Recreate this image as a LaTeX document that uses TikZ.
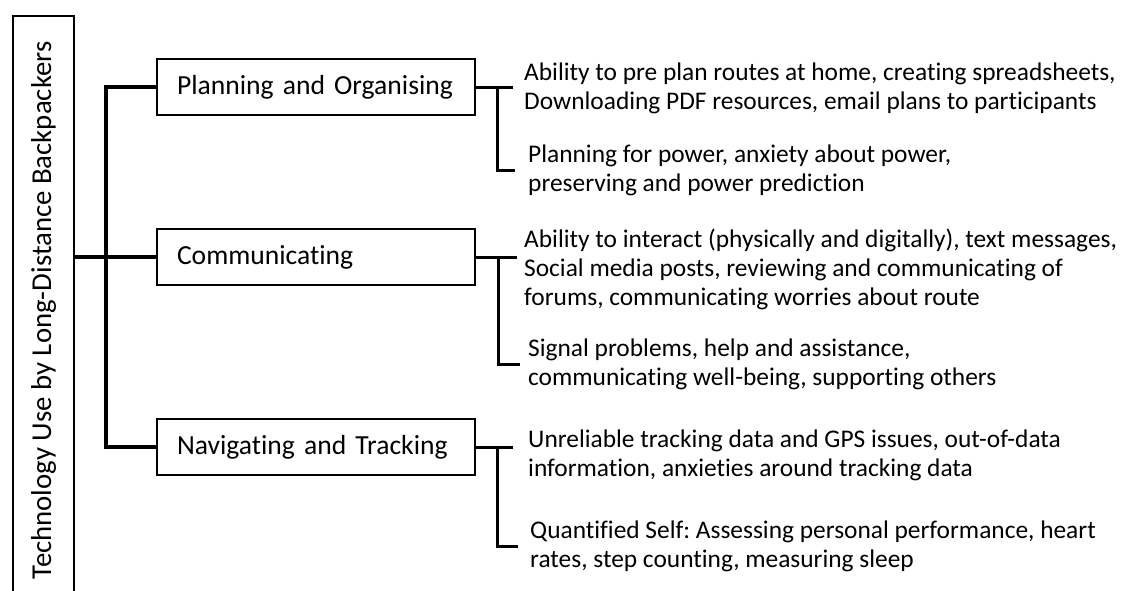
\documentclass[tikz,border=0pt]{standalone}
\usepackage{fontspec}
\setmainfont{Carlito}[Ligatures=NoCommon]
\usetikzlibrary{calc}
\frenchspacing
\begin{document}
\begin{tikzpicture}[x=1pt,y=-1pt,
  cat/.style={draw, line width=2pt, anchor=west, text width=278pt, inner xsep=20pt, inner ysep=0pt, minimum height=56pt, align=left, font=\fontsize{27.6}{33}\selectfont},
  item/.style={anchor=west, inner sep=0pt, align=left, font=\fontsize{25.4}{29}\selectfont},
  conn/.style={line width=3pt},
  trunk/.style={line width=3.2pt}]
\useasboundingbox (0,0) rectangle (1125,590);
\clip (0,0) rectangle (1125,590);
\node[draw, line width=2pt, rotate=90, minimum width=589pt, minimum height=61pt, inner sep=0pt, font=\fontsize{28.8}{33}\selectfont] (root) at (43.5,310.5) {Technology Use by Long-Distance Backpackers};
\node[cat] (plan) at (156,87) {\mbox{Planning and Organising}};
\node[cat] (comm) at (156,257) {\mbox{Communicating}};
\node[cat] (nav) at (156,447) {\mbox{Navigating and Tracking}};
\node[item] (pa) at (524,88) {Ability to pre plan routes at home, creating spreadsheets,\\Downloading PDF resources, email plans to participants};
\node[item] (pb) at (528,170) {Planning for power, anxiety about power,\\preserving and power prediction};
\node[item] (ca) at (524,269) {Ability to interact (physically and digitally), text messages,\\Social media posts, reviewing and communicating of\\forums, communicating worries about route};
\node[item] (cb) at (528,364) {Signal problems, help and assistance,\\communicating well-being, supporting others};
\node[item] (na) at (528,455) {Unreliable tracking data and GPS issues, out-of-data\\information, anxieties around tracking data};
\node[item] (nb) at (530,546) {Quantified Self: Assessing personal performance, heart\\rates, step counting, measuring sleep};
% trunk
\coordinate (tj) at (106,0);
\draw[trunk] (root.south |- comm.west) -- (comm.west);
\draw[trunk] (plan.west) -- (plan.west -| tj) |- (nav.west);
% branches
\draw[conn] (plan.east) -- ($(plan.east -| pa.west)+(-11,0)$);
\draw[conn] ($(plan.east)+(21,0)$) |- ($(pb.west)+(-13,0)$);
\draw[conn] (comm.east) -- ($(comm.east -| ca.west)+(-7,0)$);
\draw[conn] ($(comm.east)+(22,0)$) |- ($(cb.west)+(-8,0)$);
\draw[conn] (nav.east) -- ($(nav.east -| na.west)+(-15,0)$);
\draw[conn] ($(nav.east)+(21,0)$) |- ($(nb.west)+(-12,0)$);
\end{tikzpicture}
\end{document}
